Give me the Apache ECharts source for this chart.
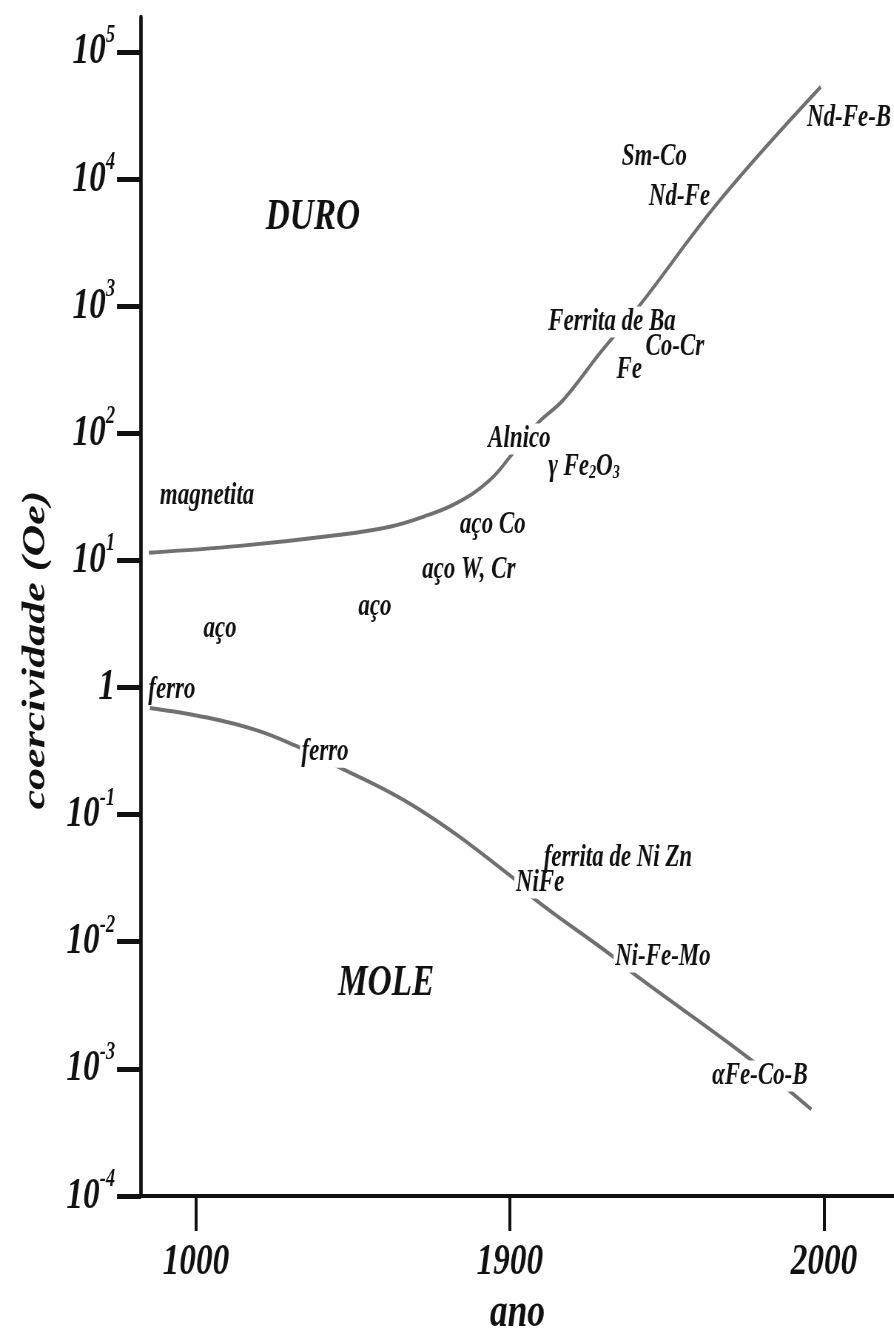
<!DOCTYPE html>
<html>
<head>
<meta charset="utf-8">
<script src="https://cdn.jsdelivr.net/npm/echarts@6/dist/echarts.min.js"></script>
<style>
html, body { margin: 0; padding: 0; overflow: hidden; background: #fff; }
/* a figura original está comprimida na horizontal */
#main { width: 1208px; height: 1329px; transform: scaleX(0.74); transform-origin: 0 0; }
</style>
</head>
<body>
<div id="main"></div>
<script>
// eixo x quebrado: 1000, 1900, 2000 igualmente espaçados
var yearTicks = [1000, 1900, 2000];
var decadeTicks = [1e-4, 1e-3, 1e-2, 1e-1, 1, 1e1, 1e2, 1e3, 1e4, 1e5];

// curva dos materiais duros
var duroYears = [865, 1126, 1413, 1556, 1651, 1748, 1843, 1901, 1909, 1917, 1929, 1941, 1967, 1999];
var duroValues = [11.5, 13.0, 15.9, 18.4, 22.0, 28.3, 43, 70, 121, 183, 437, 990, 6860, 53000];

// curva dos materiais moles
var moleYears = [868, 1032, 1175, 1284, 1393, 1633, 1901, 1907, 1933, 1939, 1976, 1996];
var moleValues = [0.69, 0.58, 0.46, 0.35, 0.25, 0.113, 0.0318, 0.0225, 0.0076, 0.0057, 0.00122, 0.00048];

// rótulos que cortam as curvas
var curveLabelNames = ['Alnico', 'Ferrita de Ba', 'ferro', 'NiFe', 'Ni-Fe-Mo', 'αFe-Co-B'];
var curveLabelYears = [1903, 1932.5, 1370, 1909.6, 1948.7, 1979.6];
var curveLabelValues = [90, 750, 0.31, 0.029, 0.0076, 0.00088];

// rótulos soltos
var freeLabelNames = ['magnetita', 'aço', 'aço', 'aço W, Cr', 'aço Co', 'γ Fe{sub|2}O{sub|3}', 'Co-Cr', 'Fe',
    'Sm-Co', 'Nd-Fe', 'Nd-Fe-B', 'ferro', 'ferrita de Ni Zn'];
var freeLabelYears = [1032, 1069, 1513, 1782, 1851, 1923.6, 1952.5, 1938, 1946, 1954, 2008, 931, 1934.4];
var freeLabelValues = [32, 2.9, 4.3, 8.4, 19, 54, 480, 315, 15000, 7200, 30000, 0.96, 0.046];

var regionNames = ['DURO', 'MOLE'];
var regionYears = [1335, 1545];
var regionValues = [5000, 0.0047];

function pos(year) {
    return year <= 1900 ? (year - 1000) / 900 : 1 + (year - 1900) / 100;
}

var chart = echarts.init(document.getElementById('main'));
var font = 'Liberation Serif';
var ink = '#111';

function zip(xs, ys) {
    return xs.map(function(x, i) { return [pos(x), ys[i]]; });
}
function labelData(names, xs, ys) {
    return names.map(function(n, i) { return { name: n, value: [pos(xs[i]), ys[i]] }; });
}

var txt = { fontFamily: font, fontStyle: 'italic', fontWeight: 'bold', color: ink };

chart.setOption({
    animation: false,
    grid: { left: 190.5, right: 0, top: 17, bottom: 133, outerBoundsMode: 'none', containLabel: false },
    xAxis: {
        type: 'value',
        min: -0.175,
        max: 2.223,
        name: 'ano',
        nameLocation: 'middle',
        nameGap: 93,
        nameTextStyle: Object.assign({}, txt, { fontSize: 48 }),
        splitLine: { show: false },
        axisLine: { onZero: false, lineStyle: { color: ink, width: 4 } },
        axisTick: { length: 35, customValues: yearTicks.map(pos), lineStyle: { color: ink, width: 4 } },
        axisLabel: Object.assign({}, txt, {
            fontSize: 45,
            margin: 44,
            customValues: yearTicks.map(pos),
            formatter: function(v) {
                for (var i = 0; i < yearTicks.length; i++) {
                    if (Math.abs(pos(yearTicks[i]) - v) < 1e-6) return String(yearTicks[i]);
                }
                return '';
            }
        })
    },
    yAxis: {
        type: 'log',
        min: 1e-4,
        max: 188000,
        name: 'coercividade (Oe)',
        nameLocation: 'middle',
        nameRotate: 90,
        nameGap: 120,
        nameTextStyle: Object.assign({}, txt, { fontSize: 44, padding: [0, 87, 0, 0] }),
        splitLine: { show: false },
        axisLine: { onZero: false, lineStyle: { color: ink, width: 4.7 } },
        axisTick: { length: 32.4, customValues: decadeTicks, lineStyle: { color: ink, width: 5 } },
        axisLabel: Object.assign({}, txt, {
            fontSize: 45,
            margin: 35,
            customValues: decadeTicks,
            formatter: function(v) {
                var e = Math.round(Math.log10(v));
                return e === 0 ? '{b|1}' : '{b|10}{sup|' + e + '}';
            },
            rich: {
                b: Object.assign({}, txt, { fontSize: 45 }),
                sup: Object.assign({}, txt, { fontSize: 25, lineHeight: 52, padding: [0, 0, 33, 0] })
            }
        })
    },
    series: [
        {
            type: 'line', smooth: 0.4, symbol: 'none', z: 2,
            lineStyle: { color: '#707070', width: 4 },
            data: zip(duroYears, duroValues)
        },
        {
            type: 'line', smooth: 0.4, symbol: 'none', z: 2,
            lineStyle: { color: '#707070', width: 4 },
            data: zip(moleYears, moleValues)
        },
        {
            type: 'scatter', symbolSize: 0, z: 5,
            itemStyle: { opacity: 1 },
            label: Object.assign({}, txt, {
                show: true, position: 'inside', fontSize: 31,
                backgroundColor: '#fff', padding: [0, 2],
                formatter: '{b}'
            }),
            data: labelData(curveLabelNames, curveLabelYears, curveLabelValues)
        },
        {
            type: 'scatter', symbolSize: 0, z: 5,
            itemStyle: { opacity: 1 },
            label: Object.assign({}, txt, {
                show: true, position: 'inside', fontSize: 31,
                formatter: '{b}',
                rich: { sub: Object.assign({}, txt, { fontSize: 19, padding: [12, 0, 0, 0] }) }
            }),
            data: labelData(freeLabelNames, freeLabelYears, freeLabelValues)
        },
        {
            type: 'scatter', symbolSize: 0, z: 5,
            itemStyle: { opacity: 1 },
            label: Object.assign({}, txt, { show: true, position: 'inside', fontSize: 45, formatter: '{b}' }),
            data: labelData(regionNames, regionYears, regionValues)
        }
    ]
});
</script>
</body>
</html>
